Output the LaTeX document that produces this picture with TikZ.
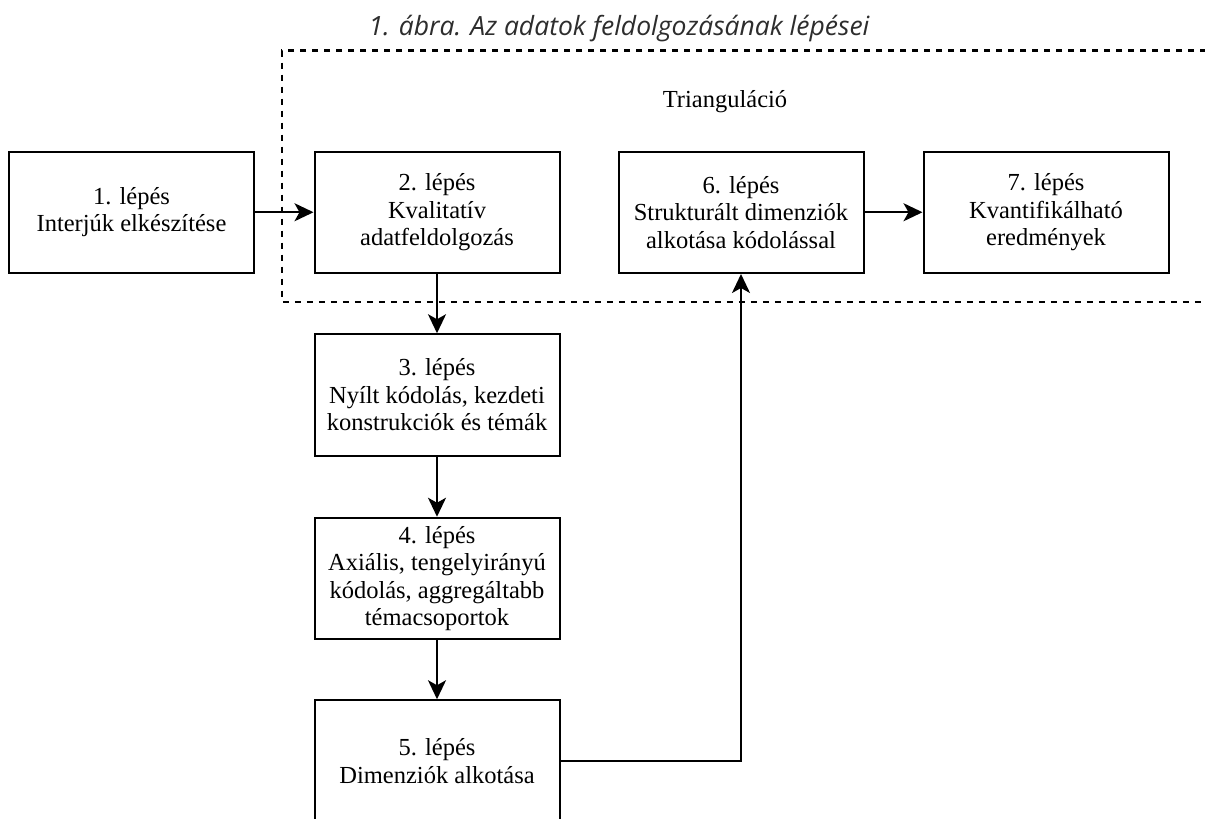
\documentclass[tikz,border=0pt]{standalone}
\usepackage{fontspec}
\setmainfont{Liberation Serif}
\newfontfamily\titlefont{Open Sans}
\usetikzlibrary{arrows.meta}
\definecolor{titlegray}{RGB}{45,45,45}
\begin{document}
\begin{tikzpicture}[x=1pt,y=-1pt,
  stepbox/.style={draw, line width=2pt, minimum width=245pt, minimum height=121.5pt,
    align=center, inner sep=0pt, font=\fontsize{24.5}{27.5}\selectfont},
  arr/.style={line width=2pt, -{Stealth[length=19pt,width=18pt,inset=5pt]}},
  dashbox/.style={line width=2.2pt, dash pattern=on 6.5pt off 5.5pt}]
\useasboundingbox (0,0) rectangle (1205,819);
\clip (0,0) rectangle (1205,819);
\fill[white] (0,0) rectangle (1205,819);
\node[font=\titlefont\itshape\fontsize{26.5}{30}\selectfont, text=titlegray] (title) at (619,29) {1. ábra. Az adatok feldolgozásának lépései};
\draw[dashbox] (1230,50.5) -- (282,50.5) -- (282,301.7) -- (1230,301.7);
\node[font=\fontsize{24.5}{27.5}\selectfont] (tri) at (725,102) {Trianguláció};
\node[stepbox] (s1) at (131.5,212.25) {1. lépés\\Interjúk elkészítése};
\node[stepbox] (s2) at (437,212.25) {2. lépés\\Kvalitatív\\adatfeldolgozás};
\node[stepbox] (s6) at (741,212.25) {6. lépés\\Strukturált dimenziók\\alkotása kódolással};
\node[stepbox] (s7) at (1046,212.25) {7. lépés\\Kvantifikálható\\eredmények};
\node[stepbox] (s3) at (437,395) {3. lépés\\Nyílt kódolás, kezdeti\\konstrukciók és témák};
\node[stepbox] (s4) at (437,578.5) {4. lépés\\Axiális, tengelyirányú\\kódolás, aggregáltabb\\témacsoportok};
\node[stepbox] (s5) at (437,761) {5. lépés\\Dimenziók alkotása};
\draw[arr] (s1) -- (s2);
\draw[arr] (s2) -- (s3);
\draw[arr] (s3) -- (s4);
\draw[arr] (s4) -- (s5);
\draw[arr] (s5.east) -| (s6.south);
\draw[arr] (s6) -- (s7);
\end{tikzpicture}
\end{document}
